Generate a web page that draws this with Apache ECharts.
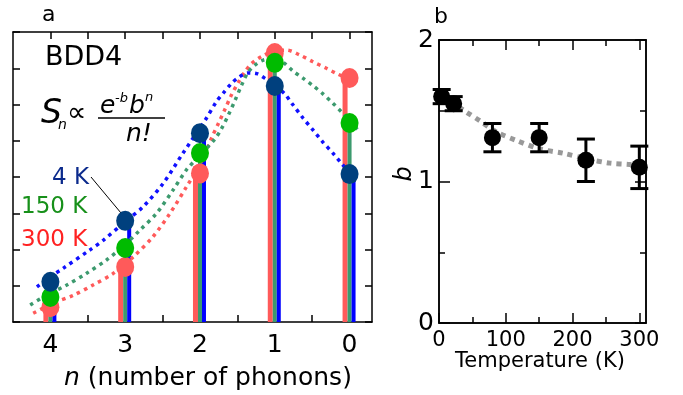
<!DOCTYPE html>
<html>
<head>
<meta charset="utf-8">
<script src="https://cdn.jsdelivr.net/npm/echarts@6.0.0/dist/echarts.min.js"></script>
<style>
  html, body { margin: 0; padding: 0; background: #fff; }
  #chart { width: 683px; height: 395px; }
</style>
</head>
<body>
<div id="chart"></div>
<script>
// panel a: S_n for each phonon number n, three temperatures
const phononN = [4, 3, 2, 1, 0];
const sn4K = [1.11, 2.79, 5.21, 6.51, 4.08];
const sn150K = [0.69, 2.04, 4.66, 7.15, 5.49];
const sn300K = [0.41, 1.52, 4.10, 7.42, 6.73];

// dotted fit curves as [n, S_n]
const fit4K = [[4.18, 0.97], [4.0, 1.25], [3.83, 1.48], [3.47, 1.99], [3.29, 2.26], [3.0, 2.77],
  [2.76, 3.18], [2.49, 3.83], [2.23, 4.65], [1.93, 5.57], [1.78, 6.08], [1.69, 6.31], [1.58, 6.58],
  [1.49, 6.74], [1.36, 6.87], [1.24, 6.85], [1.13, 6.72], [1.0, 6.52], [0.87, 6.3], [0.76, 6.0],
  [0.62, 5.62], [0.49, 5.3], [0.36, 4.97], [0.22, 4.65], [0.11, 4.38], [0, 4.12], [-0.11, 3.87]];
const fit150K = [[4.27, 0.47], [4.05, 0.74], [3.78, 1.02], [3.52, 1.34], [3.25, 1.71], [3.03, 2.08],
  [2.8, 2.54], [2.58, 3.0], [2.36, 3.64], [2.18, 4.2], [2.0, 4.6], [1.8, 5.05], [1.71, 5.34],
  [1.62, 5.71], [1.53, 6.12], [1.44, 6.55], [1.36, 6.88], [1.27, 7.08], [1.16, 7.22], [1.0, 7.28],
  [0.89, 7.17], [0.76, 6.93], [0.62, 6.72], [0.49, 6.52], [0.36, 6.3], [0.22, 6.03], [0.11, 5.8],
  [0, 5.55], [-0.11, 5.3]];
const fit300K = [[4.23, 0.24], [3.96, 0.52], [3.69, 0.74], [3.43, 1.02], [3.16, 1.34], [2.89, 1.8],
  [2.63, 2.35], [2.4, 3.0], [2.18, 3.73], [2.0, 4.35], [1.84, 5.1], [1.76, 5.45], [1.67, 5.85],
  [1.58, 6.26], [1.49, 6.6], [1.4, 6.9], [1.31, 7.13], [1.18, 7.32], [1.0, 7.48], [0.84, 7.5],
  [0.67, 7.37], [0.49, 7.18], [0.31, 7.0], [0.18, 6.86], [0, 6.7], [-0.11, 6.63]];

// panel b: b against temperature
const temperatures = [4, 22, 80, 150, 220, 300];
const bValues = [1.6, 1.55, 1.31, 1.31, 1.15, 1.1];
const bErrors = [0.05, 0.05, 0.1, 0.1, 0.15, 0.15];
const bTrend = [[4, 1.6], [22, 1.55], [41, 1.49], [61, 1.43], [86, 1.35], [116, 1.29], [151, 1.23],
  [186, 1.2], [221, 1.16], [256, 1.13], [286, 1.12], [300, 1.11]];

// tick positions
const nTicks = [0, 0.5, 1, 1.5, 2, 2.5, 3, 3.5, 4];
const nLabels = [0, 1, 2, 3, 4];
const tempMajor = [0, 100, 200, 300];
const tempMinor = [50, 150, 250];
const bMajor = [0, 1, 2];
const bMinor = [0.5, 1.5];

const font = '"DejaVu Sans", sans-serif';
const black = '#000';

const frame = (extra, tickLen, tickValues, labels) => Object.assign({
  type: 'value',
  axisLine: { show: true, onZero: false, lineStyle: { color: black, width: 1.5 } },
  axisTick: {
    show: true, inside: true, length: tickLen,
    customValues: tickValues,
    lineStyle: { color: black, width: 1.5 },
  },
  axisLabel: labels || { show: false },
  splitLine: { show: false },
}, extra);

const stem = (values, color, x0, x1) => ({
  type: 'custom',
  xAxisIndex: 0,
  yAxisIndex: 0,
  z: 2,
  data: phononN.map((n, i) => [n, values[i]]),
  renderItem: (params, api) => {
    const base = api.coord([api.value(0), 0]);
    const top = api.coord([api.value(0), api.value(1)]);
    return {
      type: 'rect',
      shape: { x: base[0] + x0, y: top[1], width: x1 - x0, height: base[1] - top[1] },
      style: { fill: color },
    };
  },
});

const fitLine = (data, color) => ({
  type: 'line',
  xAxisIndex: 0,
  yAxisIndex: 0,
  z: 3,
  data: data,
  smooth: 0.3,
  showSymbol: false,
  lineStyle: { color: color, width: 3.5, type: [3.5, 4.5] },
});

const dots = (values, color) => ({
  type: 'scatter',
  xAxisIndex: 0,
  yAxisIndex: 0,
  z: 4,
  symbol: 'circle',
  symbolSize: [18, 20],
  itemStyle: { color: color, opacity: 1 },
  data: phononN.map((n, i) => [n, values[i]]),
});

const txt = (x, y, text, size, extra) => ({
  type: 'text', x: x, y: y,
  style: Object.assign({
    text: text, fontSize: size, fontFamily: font, fill: black,
    align: 'left', verticalAlign: 'middle',
  }, extra || {}),
});
const it = { fontStyle: 'italic' };

const chart = echarts.init(document.getElementById('chart'));
chart.setOption({
  animation: false,
  grid: [
    { left: 13, top: 32, width: 359, height: 290 },
    { left: 439, top: 40, width: 207, height: 283 },
  ],
  xAxis: [
    frame({ gridIndex: 0, position: 'bottom', min: -0.3, max: 4.5, inverse: true }, 7, nTicks, {
      show: true, customValues: nLabels, margin: 11,
      color: black, fontSize: 25, fontFamily: font,
    }),
    frame({ gridIndex: 0, position: 'top', min: -0.3, max: 4.5, inverse: true }, 7, nTicks),
    frame({ gridIndex: 1, position: 'bottom', min: 0, max: 310 }, 10, tempMajor, {
      show: true, customValues: tempMajor, margin: 7,
      color: black, fontSize: 21, fontFamily: font,
    }),
    frame({ gridIndex: 1, position: 'bottom', min: 0, max: 310 }, 6, tempMinor),
    frame({ gridIndex: 1, position: 'top', min: 0, max: 310 }, 10, tempMajor),
    frame({ gridIndex: 1, position: 'top', min: 0, max: 310 }, 6, tempMinor),
  ],
  yAxis: [
    frame({ gridIndex: 0, position: 'left', min: 0, max: 8 }, 7, [0, 1, 2, 3, 4, 5, 6, 7, 8]),
    frame({ gridIndex: 0, position: 'right', min: 0, max: 8 }, 7, [0, 1, 2, 3, 4, 5, 6, 7, 8]),
    frame({ gridIndex: 1, position: 'left', min: 0, max: 2 }, 11, bMajor, {
      show: true, customValues: bMajor, margin: 21, align: 'left',
      color: black, fontSize: 25, fontFamily: font,
    }),
    frame({ gridIndex: 1, position: 'left', min: 0, max: 2 }, 6, bMinor),
    frame({ gridIndex: 1, position: 'right', min: 0, max: 2 }, 11, bMajor),
    frame({ gridIndex: 1, position: 'right', min: 0, max: 2 }, 6, bMinor),
  ],
  series: [
    stem(sn300K, '#ff5a5a', -7, -2),
    stem(sn150K, '#3c9a6e', -2, 2),
    stem(sn4K, '#0000ff', 2, 6),
    fitLine(fit300K, '#ff5a5a'),
    fitLine(fit150K, '#3c9a6e'),
    fitLine(fit4K, '#1010ff'),
    dots(sn300K, '#ff5a5a'),
    dots(sn150K, '#00bb00'),
    dots(sn4K, '#00407e'),
    {
      type: 'line',
      xAxisIndex: 2,
      yAxisIndex: 2,
      z: 2,
      data: bTrend,
      smooth: 0.3,
      showSymbol: false,
      lineStyle: { color: '#999999', width: 5, type: [5, 5] },
    },
    {
      type: 'custom',
      xAxisIndex: 2,
      yAxisIndex: 2,
      z: 3,
      data: temperatures.map((t, i) => [t, bValues[i], bErrors[i]]),
      renderItem: (params, api) => {
        const t = api.value(0);
        const hi = api.coord([t, api.value(1) + api.value(2)]);
        const lo = api.coord([t, api.value(1) - api.value(2)]);
        const cap = 9;
        const st = { stroke: black, lineWidth: 3 };
        return {
          type: 'group',
          children: [
            { type: 'line', shape: { x1: hi[0], y1: hi[1], x2: lo[0], y2: lo[1] }, style: st },
            { type: 'line', shape: { x1: hi[0] - cap, y1: hi[1], x2: hi[0] + cap, y2: hi[1] }, style: st },
            { type: 'line', shape: { x1: lo[0] - cap, y1: lo[1], x2: lo[0] + cap, y2: lo[1] }, style: st },
          ],
        };
      },
    },
    {
      type: 'scatter',
      xAxisIndex: 2,
      yAxisIndex: 2,
      z: 4,
      symbol: 'circle',
      symbolSize: 17,
      itemStyle: { color: black, opacity: 1 },
      data: temperatures.map((t, i) => [t, bValues[i]]),
    },
  ],
  graphic: [
    txt(42, 15, 'a', 22),
    txt(434, 17, 'b', 22),
    txt(45, 58, 'BDD4', 27),
    txt(41, 114, 'S', 33, it),
    txt(58, 125, 'n', 14, it),
    txt(67, 114, '\u221d', 27),
    txt(100, 106, 'e', 25, it),
    txt(115, 99, '-b', 13, it),
    txt(129, 106, 'b', 25, it),
    txt(145, 98, 'n', 13, it),
    { type: 'line', shape: { x1: 98, y1: 118, x2: 165, y2: 118 }, style: { stroke: black, lineWidth: 1.5 } },
    txt(126, 134, 'n!', 25, it),
    txt(52, 178, '4 K', 23, { fill: '#0b2a8c' }),
    txt(21, 207, '150 K', 23, { fill: '#17901a' }),
    txt(21, 240, '300 K', 23, { fill: '#ff2222' }),
    { type: 'line', shape: { x1: 91, y1: 177, x2: 121, y2: 213 }, style: { stroke: black, lineWidth: 1 } },
    txt(64, 378, '{i|n} (number of phonons)', 25, {
      rich: { i: { fontStyle: 'italic', fontSize: 25, fontFamily: font } },
    }),
    txt(455, 362, 'Temperature (K)', 21),
    {
      type: 'text', x: 405, y: 174, rotation: Math.PI / 2,
      style: { text: 'b', fontSize: 24, fontFamily: font, fontStyle: 'italic', fill: black, align: 'center', verticalAlign: 'middle' },
    },
  ],
});
</script>
</body>
</html>
